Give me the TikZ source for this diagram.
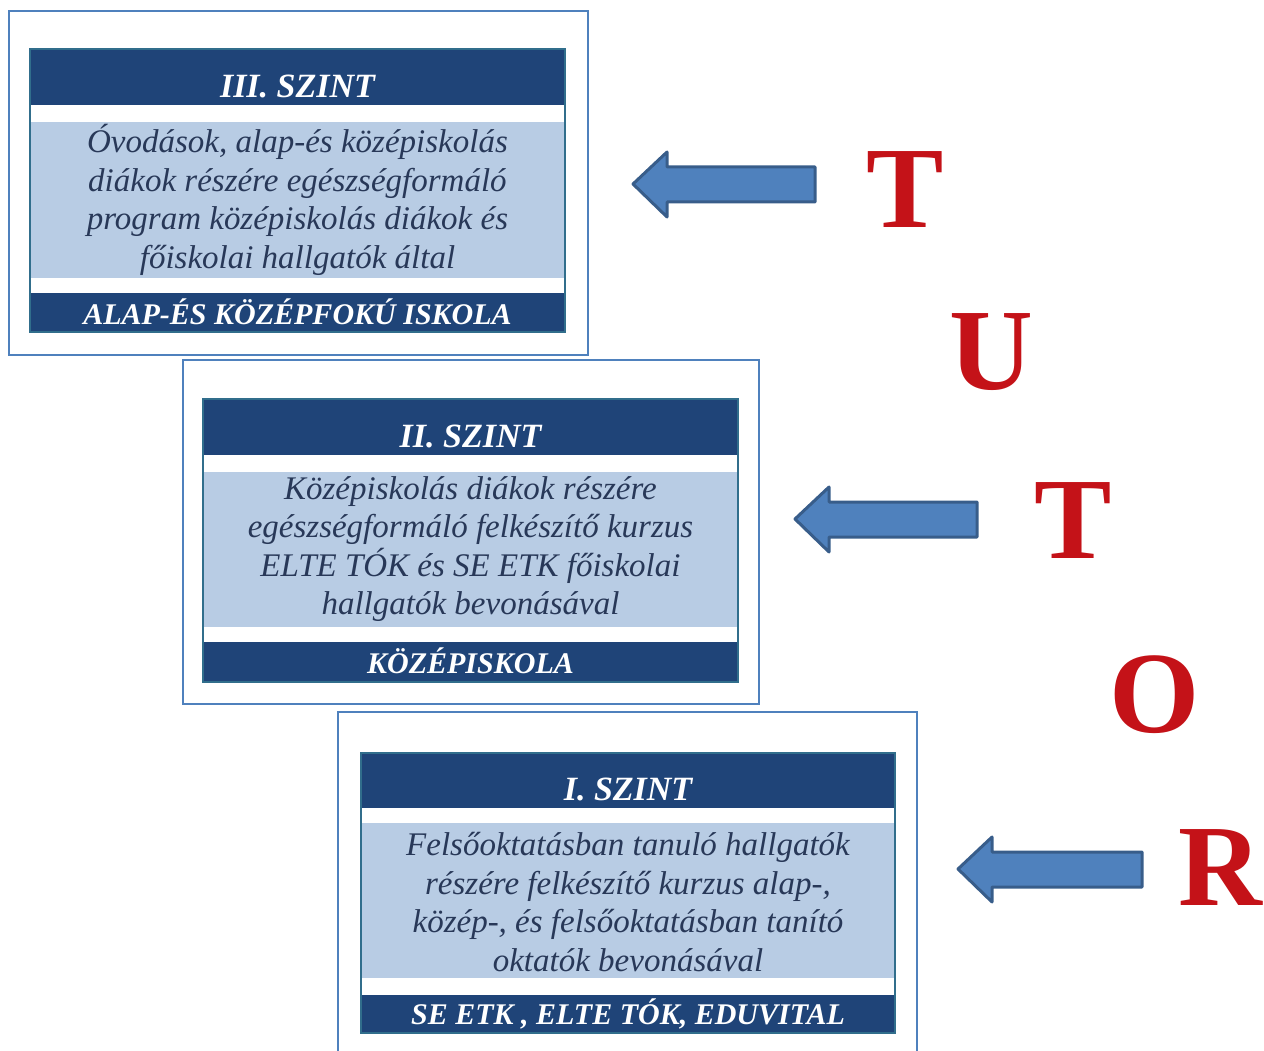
\documentclass[tikz,border=0pt]{standalone}
\usepackage{fontspec}
\setmainfont{Liberation Serif}
\definecolor{darkband}{RGB}{31,68,120}
\definecolor{lightband}{RGB}{184,204,228}
\definecolor{outerblue}{RGB}{79,129,189}
\definecolor{innerteal}{RGB}{49,110,140}
\definecolor{bodytext}{RGB}{40,56,88}
\definecolor{arrowfill}{RGB}{79,129,189}
\definecolor{arrowline}{RGB}{56,93,138}
\definecolor{letterred}{RGB}{196,18,24}
\tikzset{
  darkfill/.style={fill=darkband},
  lightfill/.style={fill=lightband},
  innerframe/.style={draw=innerteal,line width=2pt},
  outerframe/.style={draw=outerblue,line width=1.6pt},
  titletext/.style={text=white,font=\fontsize{34}{38}\selectfont\bfseries\itshape,anchor=center},
  bodybox/.style={text=bodytext,align=center,font=\fontsize{33}{38.5}\selectfont\itshape,anchor=center},
  foottext/.style={text=white,font=\fontsize{30}{32}\selectfont\bfseries\itshape,anchor=center},
  blockarrow/.style={fill=arrowfill,draw=arrowline,line width=3pt,line join=round},
  bigletter/.style={text=letterred,font=\fontsize{116}{120}\selectfont\bfseries,anchor=base},
}
\begin{document}
\begin{tikzpicture}[x=1pt,y=-1pt]
\useasboundingbox (0,0) rectangle (1264,1051);
% ---------- Level III ----------
\draw[outerframe] (9,11) rectangle (588,355);
\fill[darkfill] (30,49) rectangle (565,105);
\fill[lightfill] (30,122) rectangle (565,278);
\fill[darkfill] (30,293) rectangle (565,332);
\draw[innerframe] (30,49) rectangle (565,332);
\node[titletext] (t3) at (297.5,86) {III. SZINT};
\node[bodybox] (b3) at (297.5,200) {Óvodások, alap-és középiskolás\\diákok részére egészségformáló\\program középiskolás diákok és\\főiskolai hallgatók által};
\node[foottext] (f3) at (297.5,312) {ALAP-ÉS KÖZÉPFOKÚ ISKOLA};
% ---------- Level II ----------
\draw[outerframe] (183,360) rectangle (759,704);
\fill[darkfill] (203,399) rectangle (738,455);
\fill[lightfill] (203,472) rectangle (738,627);
\fill[darkfill] (203,642) rectangle (738,682);
\draw[innerframe] (203,399) rectangle (738,682);
\node[titletext] (t2) at (470.5,436) {II. SZINT};
\node[bodybox] (b2) at (470.5,549) {Középiskolás diákok részére\\egészségformáló felkészítő kurzus\\ELTE TÓK és SE ETK főiskolai\\hallgatók bevonásával};
\node[foottext] (f2) at (470.5,661) {KÖZÉPISKOLA};
% ---------- Level I ----------
\draw[outerframe] (338,1060) -- (338,712) -- (917,712) -- (917,1060);
\fill[darkfill] (361,753) rectangle (895,808);
\fill[lightfill] (361,823) rectangle (895,978);
\fill[darkfill] (361,995) rectangle (895,1033);
\draw[innerframe] (361,753) rectangle (895,1033);
\node[titletext] (t1) at (628,789) {I. SZINT};
\node[bodybox] (b1) at (628,902) {Felsőoktatásban tanuló hallgatók\\részére felkészítő kurzus alap-,\\közép-, és felsőoktatásban tanító\\oktatók bevonásával};
\node[foottext] (f1) at (628,1014) {SE ETK , ELTE TÓK, EDUVITAL};
% ---------- block arrows ----------
\draw[blockarrow] (633,184) -- (667,152) -- (667,167) -- (815,167) -- (815,202) -- (667,202) -- (667,217) -- cycle;
\draw[blockarrow] (795,519) -- (829,487) -- (829,502) -- (977,502) -- (977,537) -- (829,537) -- (829,552) -- cycle;
\draw[blockarrow] (958,869) -- (992,837) -- (992,852) -- (1142,852) -- (1142,887) -- (992,887) -- (992,902) -- cycle;
% ---------- TUTOR letters ----------
\node[bigletter] (L1) at (905,228) {T};
\node[bigletter] (L2) at (991,389) {U};
\node[bigletter] (L3) at (1073,558) {T};
\node[bigletter] (L4) at (1155,732) {O};
\node[bigletter,anchor=base east,inner sep=0pt] (L5) at (1262,905) {R};
\end{tikzpicture}
\end{document}
